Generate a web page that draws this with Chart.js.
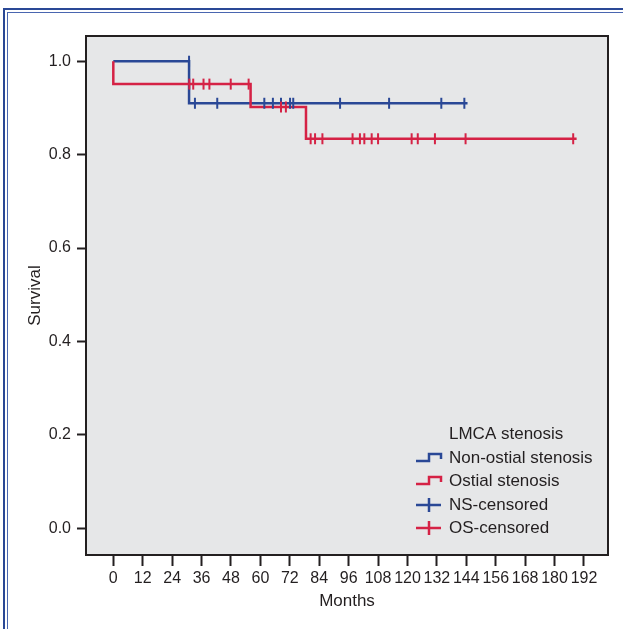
<!DOCTYPE html>
<html>
<head>
<meta charset="utf-8">
<script src="https://cdn.jsdelivr.net/npm/chart.js@4"></script>
<style>
  html, body { margin: 0; padding: 0; background: #fff; }
  #wrap { position: relative; width: 623px; height: 629px; overflow: hidden; }
  canvas { position: absolute; left: 0; top: 0; }
  .frame { position: absolute; pointer-events: none; width: 700px; height: 700px; }
  #f1 { left: 3px; top: 8px; border-top: 2px solid #2a4896; border-left: 2px solid #2a4896; }
  #f2 { left: 7px; top: 12px; border-top: 1px solid #4a66b0; border-left: 1px solid #4a66b0; }
</style>
</head>
<body>
<div id="wrap">
  <canvas id="km" width="623" height="629"></canvas>
  <div class="frame" id="f1"></div>
  <div class="frame" id="f2"></div>
</div>
<script>
// survival curves (months, survival proportion)
var nsTime = [0, 30.9, 144.5];
var nsSurv = [1.0, 0.910, 0.910];
var osTime = [0, 0, 56.0, 78.6, 189.0];
var osSurv = [1.0, 0.951, 0.902, 0.834, 0.834];

// censored observations
var nsCensorTime = [30.9, 33.3, 42.4, 61.6, 65.1, 68.4, 72.1, 73.4, 92.5, 112.5, 133.8, 143.2];
var nsCensorSurv = [1.0, 0.910, 0.910, 0.910, 0.910, 0.910, 0.910, 0.910, 0.910, 0.910, 0.910, 0.910];
var osCensorTime = [31.0, 32.6, 36.8, 39.2, 47.9, 55.2, 68.4, 70.4, 80.5, 82.3, 85.3, 97.6, 100.6,
  102.4, 105.4, 108.0, 121.7, 124.2, 131.2, 143.7, 187.6];
var osCensorSurv = [0.951, 0.951, 0.951, 0.951, 0.951, 0.951, 0.902, 0.902, 0.834, 0.834, 0.834,
  0.834, 0.834, 0.834, 0.834, 0.834, 0.834, 0.834, 0.834, 0.834, 0.834];

var xTicks = [0, 12, 24, 36, 48, 60, 72, 84, 96, 108, 120, 132, 144, 156, 168, 180, 192];
var yTicks = [0, 0.2, 0.4, 0.6, 0.8, 1.0];
var legendTitle = "LMCA stenosis";

var BLUE = "#2a4896";
var RED = "#d52245";
var INK = "#231f20";
var FONT = "'Liberation Sans', Arial, Helvetica, sans-serif";

function toPoints(xs, ys) {
  return xs.map(function (x, i) { return { x: x, y: ys[i] }; });
}

// grey plot area with a black frame, and the legend inside it
var plotFrame = {
  id: "plotFrame",
  beforeDraw: function (chart) {
    var a = chart.chartArea, ctx = chart.ctx;
    ctx.save();
    ctx.fillStyle = "#e6e7e8";
    ctx.fillRect(a.left, a.top, a.right - a.left, a.bottom - a.top);
    ctx.restore();
  },
  afterDraw: function (chart) {
    var a = chart.chartArea, ctx = chart.ctx;
    ctx.save();
    ctx.strokeStyle = INK;
    ctx.lineWidth = 2;
    ctx.strokeRect(a.left, a.top, a.right - a.left, a.bottom - a.top);

    // legend
    var ds = chart.data.datasets;
    var ix = 416, tx = 449;
    var rows = [458, 481, 505, 528];
    ctx.font = "17px " + FONT;
    ctx.fillStyle = INK;
    ctx.textBaseline = "middle";
    ctx.fillText(legendTitle, tx, 434);
    var order = [1, 0, 3, 2];
    order.forEach(function (di, r) {
      var d = ds[di], y = rows[r];
      ctx.strokeStyle = d.borderColor;
      ctx.lineWidth = 2.5;
      ctx.beginPath();
      if (d.showLine) {
        ctx.moveTo(ix, y + 3);
        ctx.lineTo(429, y + 3);
        ctx.lineTo(429, y - 4);
        ctx.lineTo(441, y - 4);
        ctx.lineTo(441, y + 1);
      } else {
        ctx.moveTo(ix, y);
        ctx.lineTo(441, y);
        ctx.moveTo(429, y - 7);
        ctx.lineTo(429, y + 7);
      }
      ctx.stroke();
      ctx.fillStyle = INK;
      ctx.fillText(d.label, tx, y);
    });
    ctx.restore();
  }
};

new Chart(document.getElementById("km"), {
  type: "scatter",
  data: {
    datasets: [
      {
        label: "Ostial stenosis",
        data: toPoints(osTime, osSurv),
        showLine: true,
        stepped: "before",
        borderColor: RED,
        borderWidth: 2.5,
        pointRadius: 0,
        order: 1
      },
      {
        label: "Non-ostial stenosis",
        data: toPoints(nsTime, nsSurv),
        showLine: true,
        stepped: "before",
        borderColor: BLUE,
        borderWidth: 2.5,
        pointRadius: 0,
        order: 2
      },
      {
        label: "OS-censored",
        data: toPoints(osCensorTime, osCensorSurv),
        pointStyle: "line",
        rotation: 90,
        pointRadius: 5.5,
        borderColor: RED,
        backgroundColor: RED,
        borderWidth: 2,
        order: 0
      },
      {
        label: "NS-censored",
        data: toPoints(nsCensorTime, nsCensorSurv),
        pointStyle: "line",
        rotation: 90,
        pointRadius: 5.5,
        borderColor: BLUE,
        backgroundColor: BLUE,
        borderWidth: 2,
        order: 0.5
      }
    ]
  },
  options: {
    responsive: false,
    animation: false,
    devicePixelRatio: 1,
    layout: { padding: { left: 20, right: 15, top: 36, bottom: 15 } },
    plugins: {
      legend: { display: false },
      tooltip: { enabled: false }
    },
    scales: {
      x: {
        type: "linear",
        min: -11.14,
        max: 201.8,
        afterBuildTicks: function (axis) {
          axis.ticks = xTicks.map(function (v) { return { value: v }; });
        },
        afterFit: function (axis) { axis.height = 59; },
        border: { display: false },
        grid: {
          drawOnChartArea: false,
          drawTicks: true,
          tickLength: 11,
          tickWidth: 2,
          tickColor: INK
        },
        ticks: {
          autoSkip: false,
          maxRotation: 0,
          padding: 3,
          color: INK,
          font: { family: FONT, size: 16 }
        },
        title: {
          display: true,
          text: "Months",
          color: INK,
          font: { family: FONT, size: 17 },
          padding: { top: 0, bottom: 2 }
        }
      },
      y: {
        type: "linear",
        min: -0.057,
        max: 1.054,
        afterBuildTicks: function (axis) {
          axis.ticks = yTicks.map(function (v) { return { value: v }; });
        },
        afterFit: function (axis) { axis.width = 66; },
        border: { display: false },
        grid: {
          drawOnChartArea: false,
          drawTicks: true,
          tickLength: 9,
          tickWidth: 2,
          tickColor: INK
        },
        ticks: {
          padding: 6,
          color: INK,
          font: { family: FONT, size: 16 },
          callback: function (v) { return Number(v).toFixed(1); }
        },
        title: {
          display: true,
          text: "Survival",
          color: INK,
          font: { family: FONT, size: 17 },
          padding: { top: 5, bottom: 0 }
        }
      }
    }
  },
  plugins: [plotFrame]
});
</script>
</body>
</html>
